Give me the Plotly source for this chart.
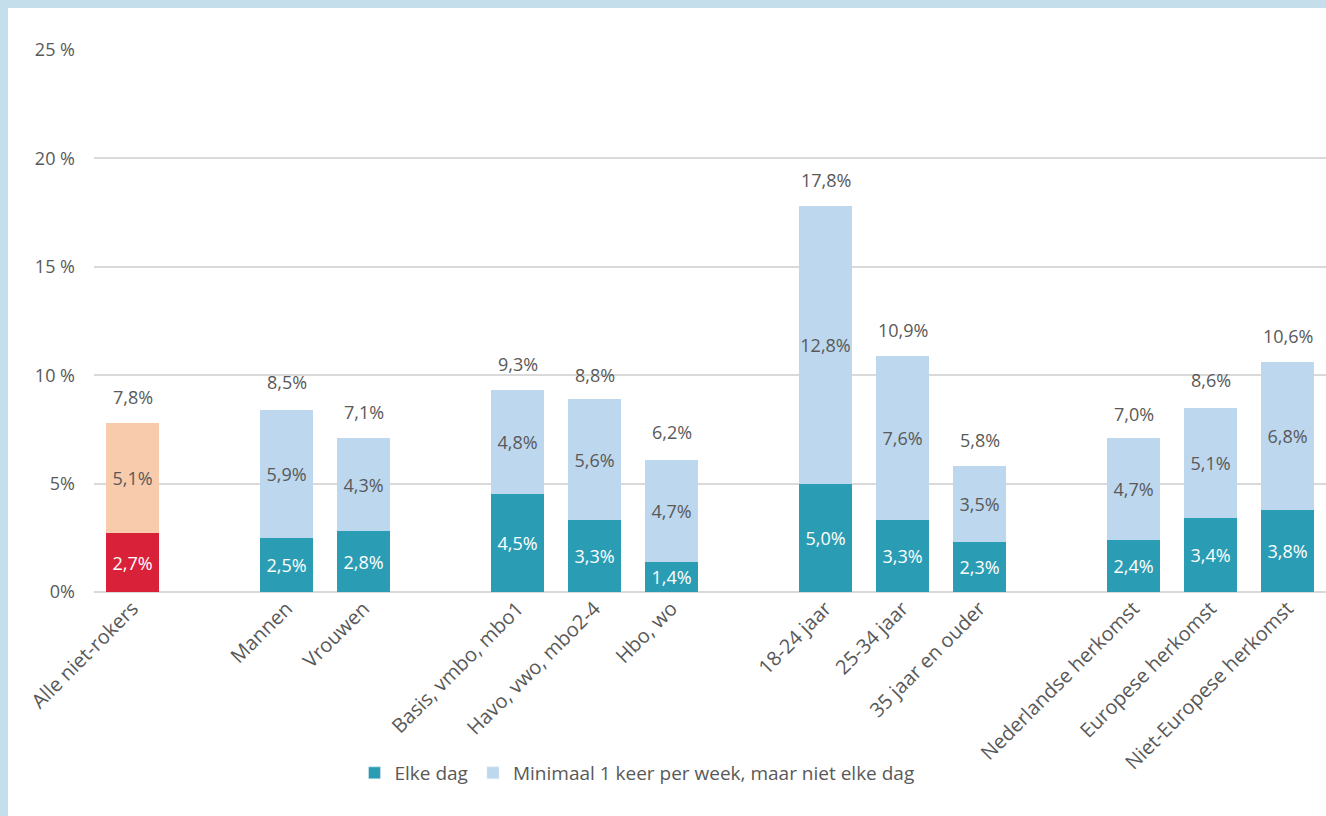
import plotly.graph_objects as go

# ---- data ----
groups = [
    ["Alle niet-rokers"],
    ["Mannen", "Vrouwen"],
    ["Basis, vmbo, mbo1", "Havo, vwo, mbo2-4", "Hbo, wo"],
    ["18-24 jaar", "25-34 jaar", "35 jaar en ouder"],
    ["Nederlandse herkomst", "Europese herkomst", "Niet-Europese herkomst"],
]
elke_dag = [2.7, 2.5, 2.8, 4.5, 3.3, 1.4, 5.0, 3.3, 2.3, 2.4, 3.4, 3.8]
minimaal_week = [5.1, 5.9, 4.3, 4.8, 5.6, 4.7, 12.8, 7.6, 3.5, 4.7, 5.1, 6.8]
totaal = [7.8, 8.5, 7.1, 9.3, 8.8, 6.2, 17.8, 10.9, 5.8, 7.0, 8.6, 10.6]
y_ticks = [0, 5, 10, 15, 20, 25]
y_ticktext = ["0%", "5%", "10 %", "15 %", "20 %", "25 %"]
series_names = ["Elke dag", "Minimaal 1 keer per week, maar niet elke dag"]

# ---- layout helpers ----
categories = []
xpos = []
slot = 0
for gi, g in enumerate(groups):
    if gi > 0:
        slot += 1  # empty slot between groups
    for c in g:
        categories.append(c)
        xpos.append(slot)
        slot += 1

def fmt(v):
    return f"{v:.1f}".replace(".", ",") + "%"

TEAL = "#2A9DB5"
LIGHT = "#BDD7EE"
RED = "#D9213A"
PEACH = "#F7CBAC"
TXT = "#595959"
FONT = "Open Sans"
LBL = 18

bottom_colors = [RED] + [TEAL] * (len(categories) - 1)
top_colors = [PEACH] + [LIGHT] * (len(categories) - 1)

fig = go.Figure()
fig.add_trace(go.Bar(
    x=xpos, y=elke_dag, width=0.68, marker=dict(color=bottom_colors, line=dict(width=0)),
    text=[fmt(v) for v in elke_dag], textposition="inside", insidetextanchor="middle",
    textangle=0, textfont=dict(color="white", size=LBL, family=FONT), showlegend=False,
    hoverinfo="skip", constraintext="none",
))
fig.add_trace(go.Bar(
    x=xpos, y=minimaal_week, width=0.68, marker=dict(color=top_colors, line=dict(width=0)),
    text=[fmt(v) for v in minimaal_week], textposition="inside", insidetextanchor="middle",
    textangle=0, textfont=dict(color=TXT, size=LBL, family=FONT), showlegend=False,
    hoverinfo="skip", constraintext="none",
))
# legend-only traces
for name, col in zip(series_names, [TEAL, LIGHT]):
    fig.add_trace(go.Bar(x=[None], y=[None], name=name, marker_color=col))

for x, t in zip(xpos, totaal):
    fig.add_annotation(x=x, y=t, text=fmt(t), showarrow=False, yanchor="bottom",
                       yshift=12, font=dict(size=LBL, color=TXT, family=FONT))

W, H = 1326, 816
ML, MR, MT, MB = 94, 0, 50, 224
pw, ph = W - ML - MR, H - MT - MB
px = lambda p: (p - ML) / pw
py = lambda p: (H - MB - p) / ph
BORDER = "#C5DEEB"
fig.add_shape(type="rect", xref="paper", yref="paper", x0=px(0), x1=px(8), y0=py(H), y1=py(0),
              fillcolor=BORDER, line=dict(width=0), layer="below")
fig.add_shape(type="rect", xref="paper", yref="paper", x0=px(0), x1=px(W), y0=py(8), y1=py(0),
              fillcolor=BORDER, line=dict(width=0), layer="below")

fig.update_layout(
    width=W, height=H, barmode="stack",
    margin=dict(l=ML, r=MR, t=MT, b=MB),
    plot_bgcolor="white", paper_bgcolor="white",
    font=dict(family=FONT, color=TXT, size=17),
    xaxis=dict(range=[-0.5, 15.5], tickvals=xpos, ticktext=categories, tickangle=-45,
               showgrid=False, zeroline=False, showline=False,
               tickfont=dict(size=20, color=TXT, family=FONT)),
    yaxis=dict(range=[0, 25], tickvals=y_ticks, ticktext=y_ticktext, showgrid=True,
               gridcolor="#D9D9D9", gridwidth=1.5, zeroline=True, zerolinecolor="#D9D9D9",
               zerolinewidth=2, ticks="", ticklabelstandoff=18,
               tickfont=dict(size=18, color=TXT, family=FONT)),
    legend=dict(orientation="h", x=px(637), xanchor="center", y=py(773), yanchor="middle",
                font=dict(size=19, color=TXT, family=FONT), traceorder="normal"),
    uniformtext=dict(mode=False),
)

fig.write_html("out.html", config={"displayModeBar": False},
               post_script="document.body.style.margin='0';")
